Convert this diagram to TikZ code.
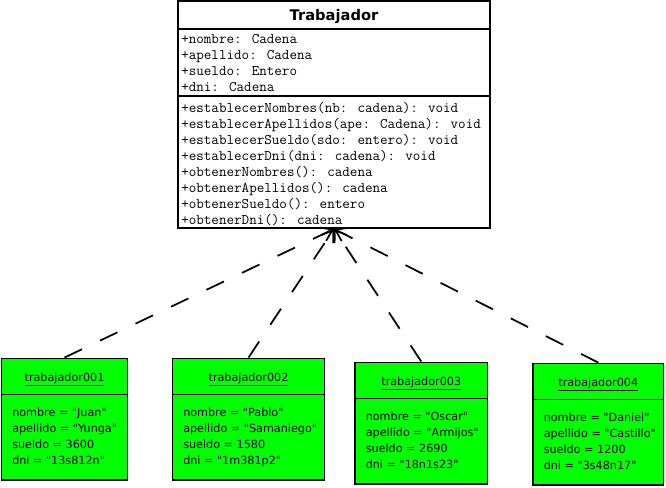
\documentclass[tikz,border=0pt]{standalone}
\usepackage{fontspec}
\setmainfont{DejaVu Sans}[Ligatures=TeXOff]
\usetikzlibrary{arrows.meta,fit}
\definecolor{objgreen}{HTML}{00FF00}
\newcommand\objbox[7]{%
  \coordinate (#1nw) at (#2,#3);
  \coordinate (#1se) at (#4,#5);
  \node[obj, fit=(#1nw)(#1se)] (#1) {};
  \draw[sepline] (#2,#3+36) -- (#4,#3+36);
  \node[otitle] (#1t) at ({(#2+#4)/2},#3+22.5) {\underline{#6}};
  \foreach \t [count=\i] in {#7} \node[otext] (#1l\i) at (#2+10.5,#3+41.5+16*\i) {\t};
}
\begin{document}
\begin{tikzpicture}[x=0.75pt,y=-0.75pt,
  boxline/.style={draw=black, line width=1.4pt},
  sepline/.style={line width=1.4pt},
  cls/.style={boxline, fill=white, inner sep=0},
  obj/.style={boxline, fill=objgreen, inner sep=0},
  mono/.style={font=\fontsize{11}{12}\ttfamily\selectfont, anchor=base west, inner sep=0},
  otext/.style={font=\fontsize{8.4}{12}\selectfont, anchor=base west, inner sep=0},
  otitle/.style={font=\fontsize{8.4}{12}\selectfont, anchor=base, inner sep=0},
  ctitle/.style={font=\bfseries\fontsize{11}{13}\selectfont, anchor=base, inner sep=0},
  realize/.style={line width=1.3pt, dash pattern=on 14.5pt off 15pt,
    -{Straight Barb[length=8pt,width=11pt,line width=1.3pt]}}
]
\useasboundingbox (0,0) rectangle (666,487);
% class box
\coordinate (cnw) at (178,1);
\coordinate (cse) at (490,228);
\node[cls, fit=(cnw)(cse)] (cls) {};
\draw[sepline] (178,29) -- (490,29);
\draw[sepline] (178,96) -- (490,96);
\node[ctitle] (title) at (334,20.7) {Trabajador};
\foreach \t [count=\i] in {+nombre: Cadena,+apellido: Cadena,+sueldo: Entero,+dni: Cadena}
  \node[mono] (att\i) at (181,27.5+16*\i) {\t};
\foreach \t [count=\i] in {+establecerNombres(nb: cadena): void,+establecerApellidos(ape: Cadena): void,+establecerSueldo(sdo: entero): void,+establecerDni(dni: cadena): void,+obtenerNombres(): cadena,+obtenerApellidos(): cadena,+obtenerSueldo(): entero,+obtenerDni(): cadena}
  \node[mono] (met\i) at (181,96+16*\i) {\t};
% object boxes
\objbox{o1}{1.5}{358.5}{127.5}{480}{trabajador001}{nombre = "Juan",apellido = "Yunga",sueldo = 3600,dni = "13s812n"}
\objbox{o2}{172.5}{358.5}{324.5}{480}{trabajador002}{nombre = "Pablo",apellido = "Samaniego",sueldo = 1580,dni = "1m381p2"}
\objbox{o3}{355}{362.5}{487.5}{484}{trabajador003}{nombre = "Oscar",apellido = "Armijos",sueldo = 2690,dni = "18n1s23"}
\objbox{o4}{533}{363.5}{663.5}{485}{trabajador004}{nombre = "Daniel",apellido = "Castillo",sueldo = 1200,dni = "3s48n17"}
% realization connectors
\draw[realize] (o1.north) -- (cls.south);
\draw[realize] (o2.north) -- (cls.south);
\draw[realize] (o3.north) -- (cls.south);
\draw[realize] (o4.north) -- (cls.south);
\end{tikzpicture}
\end{document}
